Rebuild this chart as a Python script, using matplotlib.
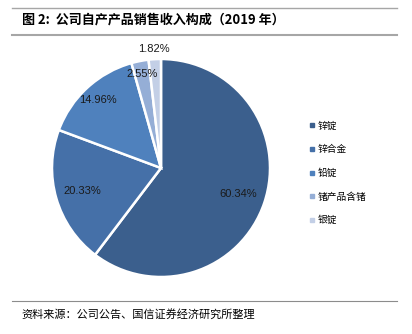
import numpy as np
import matplotlib
matplotlib.use("Agg")
import matplotlib.pyplot as plt
from matplotlib.lines import Line2D

plt.rcParams['font.family'] = ['Liberation Sans', 'Noto Sans CJK SC', 'DejaVu Sans']

# 数据
products = ["锌锭", "锌合金", "铅锭", "锗产品含锗", "银锭"]
shares = [60.34, 20.33, 14.96, 2.55, 1.82]
pct_labels = ["60.34%", "20.33%", "14.96%", "2.55%", "1.82%"]
label_dist = [0.75, 0.75, 0.85, 0.88, 1.09]
colors = ["#3B5F8D", "#4570A8", "#4F81BD", "#95AED6", "#C3CFE6"]

W, H = 412, 334
fig = plt.figure(figsize=(W / 100, H / 100), dpi=100)

# pie axes: centre ~ (161,168) px, radius ~109 px
cx, cy, r = 161, 168, 109
ax = fig.add_axes([(cx - r) / W, (H - cy - r) / H, 2 * r / W, 2 * r / H])
wedges, _ = ax.pie(shares, colors=colors, startangle=90, counterclock=False,
                   wedgeprops=dict(edgecolor="white", linewidth=1.8))
ax.set_xlim(-1, 1)
ax.set_ylim(-1, 1)
ax.set_aspect("equal")

for w, lab, d in zip(wedges, pct_labels, label_dist):
    ang = np.deg2rad((w.theta1 + w.theta2) / 2)
    ax.text(d * np.cos(ang), d * np.sin(ang), lab, ha="center", va="center",
            fontsize=8, color="#1a1a1a")

# legend
handles = [Line2D([], [], marker="s", linestyle="none", markersize=2.8,
                  markerfacecolor=c, markeredgecolor=c) for c in colors]
fig.legend(handles, products, loc="upper left", bbox_to_anchor=(300 / W, 1 - 112 / H),
           frameon=False, labelspacing=1.4, handlelength=0.6,
           handletextpad=0.3, prop={"family": ["Noto Sans CJK SC"], "size": 7})

# title and rules
fig.add_artist(Line2D([12 / W, 397 / W], [1 - 8 / H, 1 - 8 / H], color="#A6A6A6", lw=1.0))
fig.add_artist(Line2D([12 / W, 397 / W], [1 - 35 / H, 1 - 35 / H], color="#A6A6A6", lw=1.5))
fig.text(22 / W, 1 - 20 / H, "图 2:  公司自产产品销售收入构成（2019 年）", fontsize=9.4,
         fontweight="bold", va="center", ha="left",
         family=["Noto Sans CJK SC", "Liberation Sans"])

# footer
fig.add_artist(Line2D([12 / W, 397 / W], [1 - 301 / H, 1 - 301 / H], color="#8C8C8C", lw=0.8))
fig.text(21 / W, 1 - 314 / H, "资料来源：公司公告、国信证券经济研究所整理", fontsize=8,
         va="center", ha="left", family=["Noto Sans CJK SC"])

fig.savefig("out.png", dpi=100, facecolor="white")
